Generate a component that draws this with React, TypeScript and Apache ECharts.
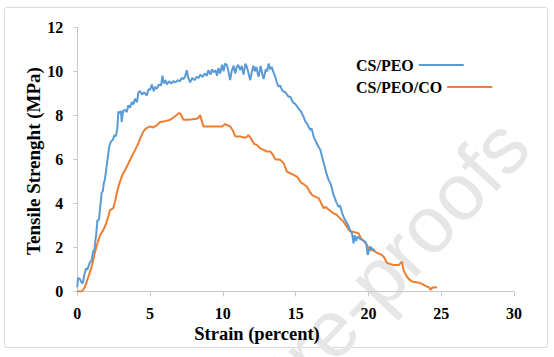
import React, { useEffect, useRef } from "react";
import * as echarts from "echarts";

const seriesNames = ["CS/PEO", "CS/PEO/CO"];
const xTicks = [0, 5, 10, 15, 20, 25, 30];
const yTicks = [0, 2, 4, 6, 8, 10, 12];

const csPeo: number[][] = [
  [0, 0.2], [0.05, 0.62], [0.12, 0.58], [0.2, 0.55], [0.3, 0.4], [0.38, 0.38], [0.48, 0.75], [0.6, 1.05],
  [0.7, 1.0], [0.85, 1.3], [0.99, 1.43], [1.08, 1.8], [1.18, 1.9], [1.25, 2.35], [1.3, 2.6], [1.38, 3.25],
  [1.42, 3.2], [1.5, 3.3], [1.58, 3.9], [1.68, 4.5], [1.75, 4.55], [1.82, 4.9], [1.9, 5.1], [2.0, 5.6],
  [2.1, 6.1], [2.2, 6.6], [2.3, 6.8], [2.45, 6.9], [2.55, 7.1], [2.65, 7.05], [2.75, 7.4], [2.82, 8.17],
  [2.9, 8.1], [3.0, 8.2], [3.05, 7.7], [3.15, 8.2], [3.28, 8.25], [3.4, 8.15], [3.5, 8.45], [3.62, 8.35],
  [3.75, 8.6], [3.85, 8.5], [3.97, 8.75], [4.1, 8.6], [4.2, 9.05], [4.31, 9.1], [4.45, 8.95], [4.6, 9.05],
  [4.77, 8.9], [4.9, 9.2], [5.0, 9.15], [5.12, 9.4], [5.25, 9.1], [5.35, 9.3], [5.46, 9.2], [5.6, 9.4],
  [5.75, 9.35], [5.85, 9.8], [5.95, 9.45], [6.05, 9.6], [6.15, 9.4], [6.3, 9.55], [6.45, 9.45], [6.6, 9.55],
  [6.75, 9.5], [6.9, 9.6], [7.05, 9.55], [7.18, 9.7], [7.3, 9.65], [7.4, 9.75], [7.52, 10.05], [7.62, 9.7],
  [7.75, 9.5], [7.9, 9.7], [8.05, 9.6], [8.2, 9.75], [8.35, 9.7], [8.44, 9.85], [8.6, 9.75], [8.75, 9.9],
  [8.9, 9.8], [9.0, 10.05], [9.15, 9.85], [9.25, 10.1], [9.36, 9.95], [9.5, 10.05], [9.6, 9.8], [9.7, 10.15],
  [9.81, 9.9], [9.95, 10.3], [10.05, 10.0], [10.15, 10.35], [10.27, 10.3], [10.38, 10.0], [10.5, 9.6],
  [10.6, 10.0], [10.73, 10.25], [10.85, 9.9], [10.95, 10.2], [11.05, 10.3], [11.19, 10.05], [11.3, 10.25],
  [11.42, 9.85], [11.55, 10.35], [11.65, 10.2], [11.75, 9.95], [11.88, 9.6], [12.0, 10.0], [12.1, 10.25],
  [12.2, 10.0], [12.3, 10.2], [12.45, 9.75], [12.6, 10.25], [12.7, 9.9], [12.8, 9.65], [12.95, 10.1],
  [13.05, 10.0], [13.14, 10.35], [13.25, 10.1], [13.35, 10.2], [13.48, 9.95], [13.6, 9.75], [13.7, 9.5],
  [13.82, 9.31], [13.94, 9.35], [14.1, 9.1], [14.3, 9.05], [14.5, 8.85], [14.63, 8.85], [14.8, 8.6],
  [15.0, 8.5], [15.2, 8.3], [15.35, 8.2], [15.5, 8.0], [15.65, 7.75], [15.8, 7.6], [16.0, 7.34],
  [16.1, 7.4], [16.25, 7.0], [16.4, 6.8], [16.55, 6.6], [16.7, 6.43], [16.9, 5.9], [17.1, 5.4],
  [17.26, 5.07], [17.4, 4.9], [17.6, 4.4], [17.8, 4.05], [17.95, 3.85], [18.05, 3.9], [18.2, 3.55],
  [18.35, 3.3], [18.53, 3.1], [18.7, 2.85], [18.87, 2.64], [18.98, 2.19], [19.05, 2.55], [19.15, 2.3],
  [19.25, 2.5], [19.4, 2.4], [19.56, 2.34], [19.7, 2.3], [19.85, 2.2], [19.95, 1.66], [20.05, 1.9],
  [20.13, 2.04], [20.25, 1.95], [20.45, 1.85],
];

const csPeoCo: number[][] = [
  [0, 0], [0.15, 0], [0.3, 0], [0.42, 0.1], [0.53, 0.22], [0.65, 0.45], [0.76, 0.67], [0.88, 0.9],
  [0.99, 1.13], [1.1, 1.45], [1.22, 1.81], [1.35, 2.1], [1.45, 2.34], [1.6, 2.6], [1.79, 2.8], [1.9, 2.95],
  [2.02, 3.17], [2.15, 3.45], [2.25, 3.7], [2.4, 3.75], [2.48, 3.8], [2.6, 4.1], [2.71, 4.46], [2.82, 4.75],
  [2.94, 5.0], [3.1, 5.3], [3.28, 5.52], [3.5, 5.8], [3.74, 6.13], [3.95, 6.4], [4.2, 6.74], [4.35, 7.0],
  [4.54, 7.26], [4.7, 7.4], [5.0, 7.5], [5.2, 7.45], [5.46, 7.55], [5.7, 7.7], [5.92, 7.72], [6.1, 7.75],
  [6.38, 7.8], [6.6, 7.9], [6.84, 8.02], [6.95, 8.1], [7.06, 8.1], [7.18, 7.95], [7.29, 7.8], [7.5, 7.8],
  [7.63, 7.8], [7.9, 7.82], [8.21, 7.85], [8.35, 7.9], [8.44, 8.02], [8.55, 7.75], [8.67, 7.49], [9.0, 7.49],
  [9.36, 7.49], [9.6, 7.5], [9.93, 7.49], [10.05, 7.55], [10.16, 7.6], [10.3, 7.55], [10.5, 7.5], [10.7, 7.3],
  [10.85, 7.04], [11.2, 7.04], [11.42, 7.0], [11.6, 7.0], [11.76, 7.1], [11.88, 7.0], [11.99, 6.88],
  [12.15, 6.7], [12.34, 6.66], [12.56, 6.5], [12.8, 6.43], [13.02, 6.36], [13.25, 6.36], [13.45, 6.2],
  [13.6, 6.0], [13.8, 6.0], [13.94, 5.98], [14.17, 5.83], [14.4, 5.45], [14.63, 5.37], [14.85, 5.3],
  [15.09, 5.22], [15.32, 4.99], [15.43, 4.92], [15.6, 4.85], [15.78, 4.76], [15.95, 4.55], [16.12, 4.39],
  [16.35, 4.3], [16.58, 4.24], [16.8, 3.95], [16.92, 3.78], [17.04, 3.85], [17.3, 3.7], [17.6, 3.55],
  [17.8, 3.5], [18.07, 3.3], [18.25, 3.2], [18.41, 3.05], [18.6, 2.85], [18.76, 2.72], [19.0, 2.7],
  [19.33, 2.64], [19.5, 2.4], [19.67, 2.3], [19.9, 2.1], [20.1, 1.9], [20.36, 1.85], [20.6, 1.75],
  [20.82, 1.7], [21.05, 1.58], [21.28, 1.3], [21.5, 1.25], [21.74, 1.2], [21.9, 1.2], [22.08, 1.2],
  [22.3, 1.35], [22.42, 0.95], [22.65, 0.67], [22.8, 0.55], [23.0, 0.45], [23.3, 0.42], [23.57, 0.38],
  [23.8, 0.3], [24.03, 0.22], [24.15, 0.2], [24.26, 0.08], [24.4, 0.18], [24.72, 0.19],
];

const serif = "'Liberation Serif', 'Times New Roman', serif";

const legendBase = {
  orient: "horizontal",
  left: 351,
  icon: "rect",
  itemWidth: 45,
  itemHeight: 2,
  align: "right",
  textStyle: {
    fontFamily: serif,
    fontWeight: "bold",
    fontSize: 16,
    color: "#000",
    lineHeight: 20,
  },
};

export default function App() {
  const ref = useRef<HTMLDivElement>(null);
  useEffect(() => {
    if (!ref.current) return;
    const chart = echarts.init(ref.current, undefined, { renderer: "svg" });
    chart.setOption({
      animation: false,
      backgroundColor: "#ffffff",
      grid: { left: 77.3, right: 40, top: 27.3, bottom: 65.5, containLabel: false },
      legend: [
        { ...legendBase, data: [seriesNames[0]], top: 50 },
        { ...legendBase, data: [seriesNames[1]], top: 72 },
      ],
      xAxis: {
        type: "value",
        min: xTicks[0],
        max: xTicks[xTicks.length - 1],
        interval: 5,
        axisLine: { lineStyle: { color: "#c8c8c8", width: 1 } },
        axisTick: { show: true, length: 5, lineStyle: { color: "#c8c8c8" } },
        splitLine: { show: false },
        axisLabel: { fontFamily: serif, fontWeight: "bold", fontSize: 16, color: "#000", margin: 14 },
      },
      yAxis: {
        type: "value",
        min: yTicks[0],
        max: yTicks[yTicks.length - 1],
        interval: 2,
        axisLine: { show: true, lineStyle: { color: "#c8c8c8", width: 1 } },
        axisTick: { show: true, length: 4, lineStyle: { color: "#c8c8c8" } },
        splitLine: { show: false },
        axisLabel: { fontFamily: serif, fontWeight: "bold", fontSize: 16, color: "#000", margin: 14 },
      },
      graphic: [
        {
          type: "rect",
          z: -10,
          shape: { x: 4.5, y: 7.5, width: 543, height: 340, r: 2 },
          style: { fill: "none", stroke: "#d9d9d9", lineWidth: 1 },
        },
        {
          type: "text",
          z: -5,
          x: 514,
          y: 132,
          rotation: (47 * Math.PI) / 180,
          style: {
            text: "Journal Pre-proofs",
            font: "80px 'Liberation Sans', Arial, sans-serif",
            fill: "#e6e6e6",
            align: "right",
            verticalAlign: "middle",
          },
        },
        {
          type: "text",
          x: 33,
          y: 161,
          rotation: Math.PI / 2,
          style: {
            text: "Tensile Strenght (MPa)",
            font: `bold 19px ${serif}`,
            fill: "#000",
            align: "center",
            verticalAlign: "middle",
          },
        },
        {
          type: "text",
          x: 257,
          y: 334,
          style: {
            text: "Strain (percent)",
            font: `bold 18.5px ${serif}`,
            fill: "#000",
            align: "center",
            verticalAlign: "middle",
          },
        },
      ],
      series: [
        {
          name: seriesNames[0],
          type: "line",
          data: csPeo,
          showSymbol: false,
          symbol: "none",
          lineStyle: { color: "#5B9BD5", width: 2 },
          itemStyle: { color: "#5B9BD5" },
          z: 3,
        },
        {
          name: seriesNames[1],
          type: "line",
          data: csPeoCo,
          showSymbol: false,
          symbol: "none",
          lineStyle: { color: "#ED7D31", width: 2 },
          itemStyle: { color: "#ED7D31" },
          z: 2,
        },
      ],
    });
    return () => chart.dispose();
  }, []);
  return (
    <div
      ref={ref}
      style={{ position: "absolute", left: 0, top: 0, width: 554, height: 357, background: "#fff" }}
    />
  );
}
